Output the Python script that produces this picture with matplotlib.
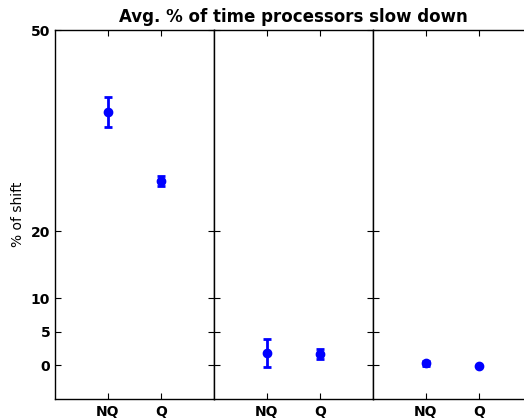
import matplotlib
matplotlib.use("Agg")
import matplotlib.pyplot as plt

categories = ["NQ", "Q"]
panel_means = [[37.8, 27.5], [1.8, 1.7], [0.3, -0.05]]
panel_errs = [[2.2, 0.8], [2.1, 0.8], [0.4, 0.0]]
yticks = [0, 5, 10, 20, 50]

fig = plt.figure(figsize=(5.24, 4.18), dpi=100)
fig.patch.set_facecolor("white")

left, bottom, top = 55 / 524, 1 - 399 / 418, 1 - 30 / 418
pw = 159 / 524
axes = []
for i in range(3):
    ax = fig.add_axes([left + i * pw, bottom, pw, top - bottom])
    axes.append(ax)
    x = [1, 2]
    ax.errorbar(x, panel_means[i], yerr=panel_errs[i], fmt="o", color="blue",
                ecolor="blue", elinewidth=2, capsize=3, capthick=2, markersize=6,
                markeredgecolor="blue")
    ax.set_xlim(0, 3)
    ax.set_ylim(-5, 50)
    ax.set_xticks(x)
    ax.set_xticklabels(categories, fontweight="bold", fontsize=10)
    ax.set_yticks(yticks)
    ax.tick_params(direction="in", top=True, right=True, length=4, width=0.8,
                   colors="black")
    ax.tick_params(axis="x", pad=4.5)
    ax.tick_params(axis="y", pad=3.5)
    if i == 0:
        ax.set_yticklabels([str(v) for v in yticks], fontweight="bold", fontsize=10)
        ax.set_ylabel("% of shift", fontsize=10)
    else:
        ax.set_yticklabels([])
    for s in ax.spines.values():
        s.set_linewidth(1.0)

axes[1].set_title("Avg. % of time processors slow down", fontweight="bold", fontsize=12)

fig.savefig("out.png", dpi=100)
